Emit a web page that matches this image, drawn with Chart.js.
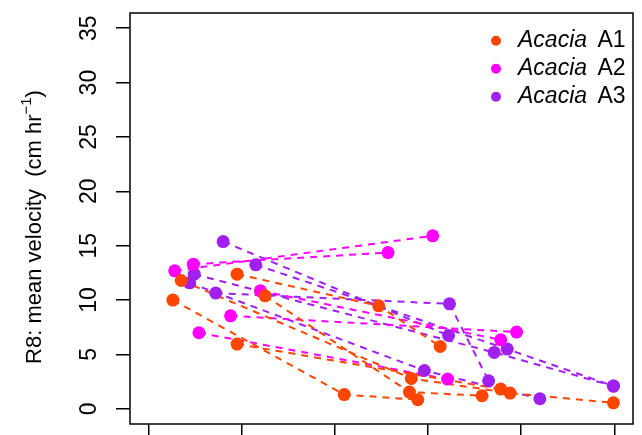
<!DOCTYPE html>
<html>
<head>
<meta charset="utf-8">
<script src="https://cdn.jsdelivr.net/npm/chart.js@4.4.0/dist/chart.umd.min.js"></script>
<style>
  html, body { margin: 0; padding: 0; background: #fff; }
</style>
</head>
<body>
<canvas id="myChart" width="642" height="435"></canvas>
<script>
const genus = 'Acacia';
const groupNames = ['A1', 'A2', 'A3'];
const groupColors = ['#ff4500', '#ff00ff', '#a020f0'];
const yTicks = [0, 5, 10, 15, 20, 25, 30, 35];
const xTicks = [0, 1, 2, 3, 4, 5];
const yTitle = 'R8: mean velocity  (cm hr';

// one inner array per tree: [x, velocity] pairs joined by a dashed line
const a1Trees = [
  [[0.26, 10.0], [2.10, 1.31], [2.89, 0.83]],
  [[0.35, 11.8], [2.82, 2.79], [3.88, 1.44], [4.99, 0.55]],
  [[0.95, 12.38], [2.47, 9.47], [3.13, 5.73]],
  [[0.95, 5.95], [3.78, 1.81]],
  [[1.25, 10.39], [2.80, 1.54], [3.58, 1.20]]
];
const a2Trees = [
  [[0.28, 12.69], [3.05, 15.91]],
  [[0.48, 13.30], [2.57, 14.37]],
  [[0.54, 6.99], [3.21, 2.73]],
  [[0.88, 8.55], [3.95, 7.05]],
  [[1.20, 10.85], [3.78, 6.34]]
];
const a3Trees = [
  [[0.80, 15.38], [3.22, 6.74]],
  [[0.72, 10.64], [3.23, 9.65], [3.65, 2.57]],
  [[0.44, 11.58], [2.96, 3.52], [4.20, 0.92]],
  [[0.49, 12.38], [3.71, 5.18], [4.99, 2.09]],
  [[1.15, 13.24], [3.85, 5.49], [4.99, 2.09]]
];

const groups = [a1Trees, a2Trees, a3Trees];
const datasets = [];
groups.forEach((trees, g) => {
  trees.forEach(tree => {
    datasets.push({
      data: tree.map(p => ({ x: p[0], y: p[1] })),
      showLine: true,
      borderColor: groupColors[g],
      borderWidth: 2,
      borderDash: [7, 6],
      pointRadius: 0,
      order: 1
    });
  });
});
groups.forEach((trees, g) => {
  datasets.push({
    data: trees.flat().map(p => ({ x: p[0], y: p[1] })),
    showLine: false,
    pointRadius: 6.5,
    pointBorderWidth: 0,
    pointBackgroundColor: groupColors[g],
    order: 0
  });
});

const FONT = '"Liberation Sans", Arial, sans-serif';

// box, rotated y labels, axis title and legend drawn the R way
const extras = {
  id: 'extras',
  afterDraw(chart) {
    const { ctx, chartArea: a, scales: { y } } = chart;
    ctx.save();
    ctx.strokeStyle = '#000';
    ctx.lineWidth = 1.5;
    ctx.strokeRect(a.left, a.top, a.right - a.left, a.bottom - a.top);

    ctx.fillStyle = '#000';
    ctx.font = '23px ' + FONT;
    ctx.textAlign = 'center';
    ctx.textBaseline = 'middle';
    y.ticks.forEach(t => {
      ctx.save();
      ctx.translate(90, y.getPixelForValue(t.value));
      ctx.rotate(-Math.PI / 2);
      ctx.fillText(String(t.value), 0, 0);
      ctx.restore();
    });

    // title with superscript -1
    const main = '22px ' + FONT, sup = '15px ' + FONT;
    ctx.font = main;
    const w1 = ctx.measureText(yTitle).width;
    const w3 = ctx.measureText(')').width;
    ctx.font = sup;
    const w2 = ctx.measureText('\u22121').width;
    const total = w1 + w2 + w3;
    ctx.save();
    ctx.translate(35, 227);
    ctx.rotate(-Math.PI / 2);
    ctx.textAlign = 'left';
    let x0 = -total / 2;
    ctx.font = main;
    ctx.fillText(yTitle, x0, 0);
    ctx.font = sup;
    ctx.fillText('\u22121', x0 + w1, -8);
    ctx.font = main;
    ctx.fillText(')', x0 + w1 + w2, 0);
    ctx.restore();

    // legend
    ctx.textAlign = 'left';
    groupNames.forEach((name, i) => {
      const ly = 40.7 + i * 28;
      ctx.fillStyle = groupColors[i];
      ctx.beginPath();
      ctx.arc(496, ly, 5, 0, Math.PI * 2);
      ctx.fill();
      ctx.fillStyle = '#000';
      ctx.font = 'italic 23px ' + FONT;
      ctx.fillText(genus, 518, ly);
      const gw = ctx.measureText(genus + ' ').width;
      ctx.font = '23px ' + FONT;
      ctx.fillText(name, 518 + gw + 4, ly);
    });
    ctx.restore();
  }
};

const ctx = document.getElementById('myChart').getContext('2d');
const myChart = new Chart(ctx, {
  type: 'scatter',
  data: { datasets },
  options: {
    responsive: false,
    animation: false,
    layout: { padding: { top: 13, right: 9, left: 0, bottom: 0 } },
    plugins: { legend: { display: false }, tooltip: { enabled: false } },
    scales: {
      x: {
        type: 'linear',
        min: -0.2,
        max: 5.2,
        afterBuildTicks: s => { s.ticks = xTicks.map(v => ({ value: v })); },
        afterFit: s => { s.height = 11; },
        grid: { drawOnChartArea: false, drawTicks: true, tickLength: 14, color: '#000', lineWidth: 1.5 },
        border: { display: false },
        ticks: { display: false }
      },
      y: {
        type: 'linear',
        min: -1.4,
        max: 36.4,
        afterBuildTicks: s => { s.ticks = yTicks.map(v => ({ value: v })); },
        afterFit: s => { s.width = 130; },
        grid: { drawOnChartArea: false, drawTicks: true, tickLength: 14, color: '#000', lineWidth: 1.5 },
        border: { display: false },
        ticks: { display: false }
      }
    }
  },
  plugins: [extras]
});
</script>
</body>
</html>
